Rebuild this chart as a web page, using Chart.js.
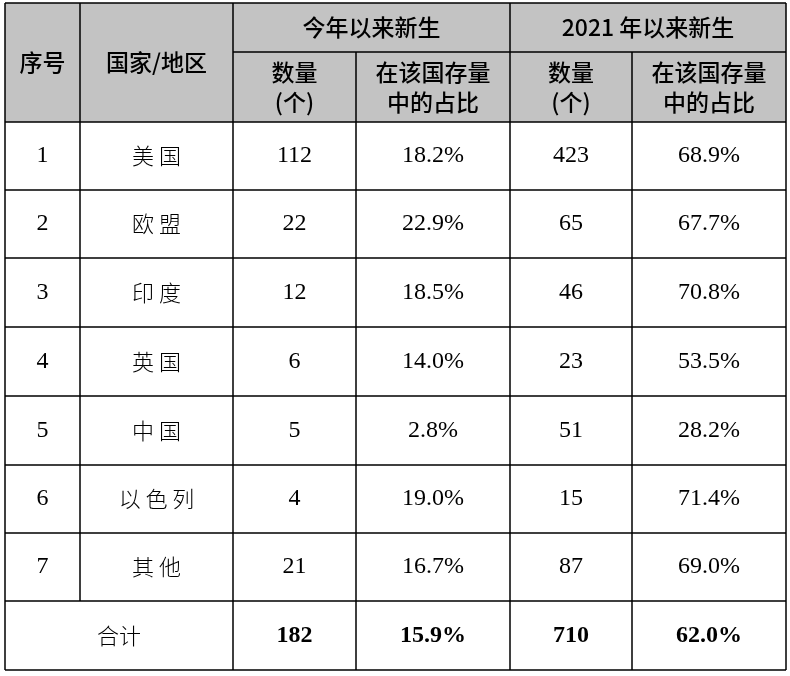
<!DOCTYPE html>
<html><head><meta charset="utf-8">
<script src="https://cdn.jsdelivr.net/npm/chart.js@4.4.0/dist/chart.umd.min.js"></script>
<style>html,body{margin:0;padding:0;background:#fff}</style>
</head><body>
<canvas id="c" width="790" height="676"></canvas>
<script>
const groupHeaders = ["今年以来新生", "2021 年以来新生"];
const subHeaders = [["数量", "(个)"], ["在该国存量", "中的占比"], ["数量", "(个)"], ["在该国存量", "中的占比"]];
const indexNo = ["1", "2", "3", "4", "5", "6", "7"];
const regions = ["美国", "欧盟", "印度", "英国", "中国", "以色列", "其他"];
const newThisYear = [112, 22, 12, 6, 5, 4, 21];
const shareThisYear = ["18.2%", "22.9%", "18.5%", "14.0%", "2.8%", "19.0%", "16.7%"];
const newSince2021 = [423, 65, 46, 23, 51, 15, 87];
const shareSince2021 = ["68.9%", "67.7%", "70.8%", "53.5%", "28.2%", "71.4%", "69.0%"];
const totalRow = ["合计", "182", "15.9%", "710", "62.0%"];

const colX = [5, 80, 233, 356, 510, 632, 786];
const rowY = [3, 52, 122, 190, 258, 327, 396, 465, 533, 601, 670];

const tablePlugin = {
  id: 'table',
  afterDraw(chart) {
    const ctx = chart.ctx, xs = chart.scales.x, ys = chart.scales.y;
    const X = v => xs.getPixelForValue(v), Y = v => ys.getPixelForValue(v);
    const cx = (a, b) => (X(colX[a]) + X(colX[b])) / 2;
    ctx.save();
    ctx.fillStyle = '#c3c3c3';
    ctx.fillRect(X(colX[0]), Y(rowY[0]), X(colX[6]) - X(colX[0]), Y(rowY[2]) - Y(rowY[0]));
    ctx.textAlign = 'center'; ctx.textBaseline = 'middle'; ctx.fillStyle = '#000';
    ctx.font = '500 23px "Noto Sans CJK SC"';
    const hmid = (Y(rowY[0]) + Y(rowY[2])) / 2;
    ctx.fillText('序号', cx(0, 1), hmid);
    ctx.fillText('国家/地区', cx(1, 2), hmid);
    ctx.fillText(groupHeaders[0], cx(2, 4), (Y(rowY[0]) + Y(rowY[1])) / 2);
    ctx.fillText(groupHeaders[1], cx(4, 6), (Y(rowY[0]) + Y(rowY[1])) / 2);
    subHeaders.forEach((s, i) => {
      ctx.fillText(s[0], cx(2 + i, 3 + i), Y(72));
      ctx.fillText(s[1], cx(2 + i, 3 + i), Y(102));
    });
    const serif = '24px "Liberation Serif"';
    const cjk = '300 22px "Noto Sans CJK SC"';
    regions.forEach((r, i) => {
      const y = (Y(rowY[2 + i]) + Y(rowY[3 + i])) / 2;
      ctx.font = serif;
      ctx.fillText(indexNo[i], cx(0, 1), y);
      ctx.fillText(String(newThisYear[i]), cx(2, 3), y);
      ctx.fillText(shareThisYear[i], cx(3, 4), y);
      ctx.fillText(String(newSince2021[i]), cx(4, 5), y);
      ctx.fillText(shareSince2021[i], cx(5, 6), y);
      ctx.font = cjk;
      ctx.fillText(r.split('').join(' '), cx(1, 2), y);
    });
    const ty = (Y(rowY[9]) + Y(rowY[10])) / 2;
    ctx.font = cjk; ctx.fillText(totalRow[0], cx(0, 2), ty);
    ctx.font = 'bold 24px "Liberation Serif"';
    for (let k = 1; k < 5; k++) ctx.fillText(totalRow[k], cx(1 + k, 2 + k), ty);
    ctx.strokeStyle = '#000'; ctx.lineWidth = 1.5;
    ctx.beginPath();
    rowY.forEach((ry, i) => {
      if (i === 1) { ctx.moveTo(X(colX[2]), Y(ry)); ctx.lineTo(X(colX[6]), Y(ry)); return; }
      ctx.moveTo(X(colX[0]), Y(ry)); ctx.lineTo(X(colX[6]), Y(ry));
    });
    colX.forEach((c, i) => {
      let top = Y(rowY[0]);
      if (i === 3 || i === 5) top = Y(rowY[1]);
      let bottom = Y(rowY[10]);
      if (i === 1) bottom = Y(rowY[9]);
      ctx.moveTo(X(c), top); ctx.lineTo(X(c), bottom);
    });
    ctx.stroke();
    ctx.restore();
  }
};

new Chart(document.getElementById('c'), {
  type: 'scatter',
  data: { datasets: [{ data: [] }] },
  options: {
    responsive: false, animation: false,
    layout: { padding: 0 },
    plugins: { legend: { display: false }, tooltip: { enabled: false } },
    scales: {
      x: { type: 'linear', min: 0, max: 790, display: false },
      y: { type: 'linear', min: 0, max: 676, reverse: true, display: false }
    }
  },
  plugins: [tablePlugin]
});
</script>
</body></html>
